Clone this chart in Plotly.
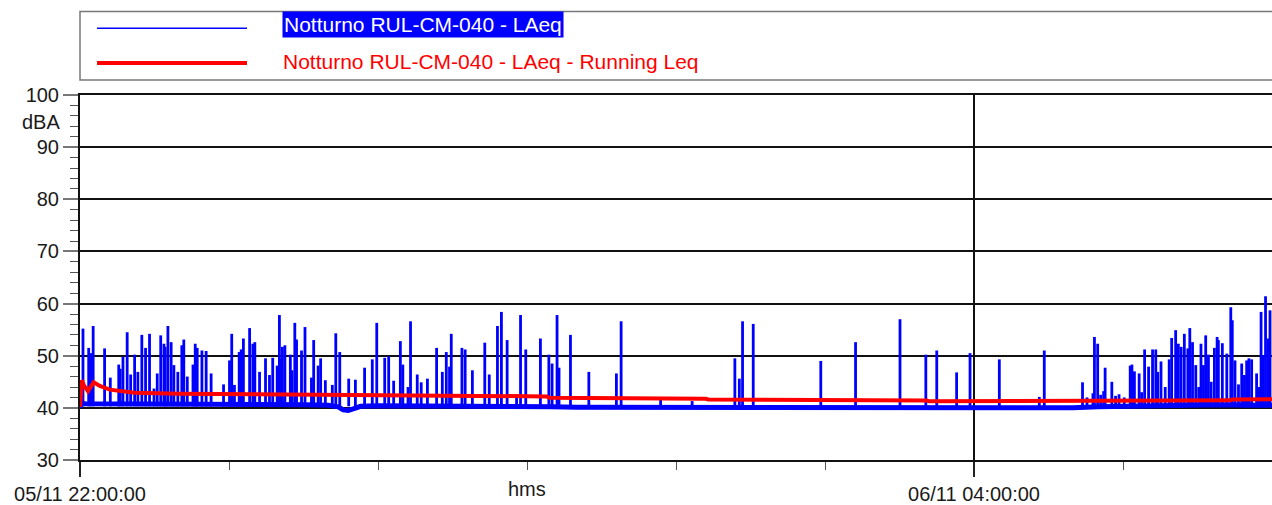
import pandas as pd
import plotly.graph_objects as go

# ---------------- data ----------------
START = pd.Timestamp("2019-11-05 22:00:00")

# LAeq baseline (minutes after 22:00, dBA)
base_min = [0, 0.6, 2, 10, 20, 30, 40, 50, 60, 70, 80, 90, 100, 104, 106, 108, 110, 113,
            120, 130, 140, 150, 160, 170, 180, 190, 200, 210, 220, 230, 240, 250, 260,
            270, 280, 290, 300, 310, 320, 330, 340, 350, 360, 370, 380, 390, 400, 410,
            420, 430, 440, 450, 460, 470, 480]
base_db = [40.0, 40.9, 40.8, 40.8, 40.8, 40.8, 40.7, 40.7, 40.7, 40.6, 40.6, 40.6, 40.5, 40.2,
           39.6, 39.5, 39.8, 40.3, 40.4, 40.4, 40.4, 40.4, 40.3, 40.2, 40.2, 40.2, 40.1,
           40.1, 40.0, 40.0, 39.9, 40.0, 40.0, 39.9, 39.9, 39.9, 39.9, 39.9, 39.9, 39.9,
           39.9, 39.9, 39.9, 39.9, 39.9, 39.9, 40.0, 40.2, 40.3, 40.4, 40.5, 40.6, 40.6,
           40.5, 40.5]

# LAeq peaks (minutes after 22:00, dBA)
peak_min = [1.2, 3.5, 4.3, 5.3, 9.9, 12.2, 15.6, 16.2, 17.3, 19.0, 20.4, 22.0, 23.3, 24.9,
            26.4, 28.0, 29.8, 31.1, 32.5, 33.8, 34.3, 35.4, 36.7, 37.8, 39.4, 41.0, 41.8,
            43.2, 45.5, 46.4, 47.2, 49.1, 50.8, 52.8, 57.8, 60.2, 61.1, 62.2, 64.1, 64.9,
            65.8, 68.3, 69.6, 70.4, 72.3, 74.7, 76.3, 77.6, 79.4, 80.3, 80.8, 81.5, 82.5,
            84.7, 85.4, 86.5, 87.2, 89.2, 90.6, 93.2, 94.1, 95.9, 96.9, 98.8, 101.6, 103.0,
            104.6, 108.2, 110.9, 114.6, 117.7, 119.5, 122.7, 124.3, 126.3, 129.0, 130.0,
            132.1, 133.1, 135.8, 137.4, 139.9, 143.6, 145.9, 147.5, 148.8, 149.5, 153.8,
            155.1, 158.0, 163.0, 164.8, 168.1, 169.7, 172.0, 175.8, 177.4, 179.5, 185.4,
            188.8, 190.1, 192.1, 192.9, 197.5, 204.9, 216.0, 217.9, 233.8, 246.5, 263.7,
            265.5, 266.8, 271.1, 298.3, 312.3, 330.2, 340.6, 345.0, 353.0, 358.4, 370.2,
            386.3, 388.3, 403.7, 405.5, 407.9, 408.5, 409.8, 411.0, 412.2, 412.8, 415.5,
            417.0, 418.4, 420.5, 422.9, 423.6, 424.6, 426.5, 427.5, 428.7, 430.3, 431.9,
            433.2, 434.0, 435.3, 437.0, 438.6, 439.6, 441.2, 442.3, 443.4, 444.7, 446.1,
            446.9, 448.0, 449.3, 450.5, 451.4, 452.4, 453.3, 454.4, 455.5, 456.8, 457.9,
            458.4, 460.0, 461.8, 463.4, 464.0, 465.1, 466.5, 467.8, 468.9, 469.8, 470.7,
            471.8, 473.8, 474.8, 475.6, 476.5, 477.4, 478.5, 479.2]
peak_db = [55.2, 51.5, 50.5, 55.7, 51.4, 45.8, 48.3, 47.5, 49.8, 54.5, 46.4, 50.2, 46.9, 54.0,
           51.5, 54.2, 43.7, 46.6, 53.9, 52.3, 51.7, 55.7, 52.6, 48.2, 46.9, 52.0, 53.1,
           46.0, 48.3, 52.3, 51.5, 51.0, 50.9, 46.6, 44.5, 49.1, 54.2, 44.4, 50.7, 51.2,
           53.3, 55.3, 52.3, 52.6, 46.9, 49.5, 46.3, 49.6, 48.1, 57.8, 49.5, 51.7, 52.0,
           50.2, 47.2, 56.3, 53.1, 51.0, 55.5, 45.8, 53.0, 48.1, 49.5, 45.3, 44.4, 54.3,
           50.7, 45.6, 45.4, 47.7, 49.3, 56.3, 49.6, 49.9, 45.2, 52.8, 48.3, 44.0, 56.6,
           46.4, 44.9, 45.6, 51.5, 46.9, 50.7, 47.9, 54.2, 51.5, 51.2, 47.2, 52.5, 46.4,
           55.7, 58.4, 53.0, 42.6, 57.8, 51.2, 53.3, 50.2, 48.5, 57.8, 47.7, 54.0, 46.9,
           46.6, 56.6, 41.5, 41.3, 49.5, 45.6, 56.6, 56.1, 49.0, 52.6, 57.0, 50.2, 51.0,
           46.8, 50.5, 49.3, 42.1, 51.0, 44.9, 42.0, 42.8, 53.6, 52.3, 42.5, 43.2, 47.7,
           45.0, 42.3, 42.6, 42.0, 48.1, 48.3, 47.0, 46.6, 43.0, 51.2, 47.9, 51.2, 51.2,
           46.9, 48.9, 44.0, 49.3, 53.4, 54.9, 52.3, 51.7, 54.2, 51.4, 55.3, 52.6, 48.2,
           44.0, 52.3, 48.2, 53.9, 50.2, 45.0, 51.5, 53.6, 53.0, 52.4, 50.4, 59.3, 56.8,
           49.1, 44.5, 48.5, 46.3, 49.1, 49.5, 49.3, 46.6, 44.0, 58.4, 50.1, 61.4, 53.3,
           58.7]

# Running Leq (minutes after 22:00, dBA)
run_min = [0, 0.8, 1.6, 3.2, 5.5, 8, 12, 16, 22, 40, 80, 108, 109, 150, 188, 189, 226, 227,
           252, 253, 293, 294, 341, 342, 435, 436, 463, 464, 480]
run_db = [40.2, 45.3, 44.3, 43.2, 44.9, 44.2, 43.5, 43.2, 42.9, 42.7, 42.6, 42.55, 42.4,
          42.3, 42.2, 41.95, 41.9, 41.75, 41.75, 41.6, 41.55, 41.45, 41.4, 41.25, 41.25,
          41.4, 41.45, 41.6, 41.65]

y_ticks = [30, 40, 50, 60, 70, 80, 90, 100]
x_tick_min = [0, 360]
x_tick_text = ["05/11 22:00:00", "06/11 04:00:00"]
x_title_min = 180
series_names = ["Notturno RUL-CM-040 - LAeq", "Notturno RUL-CM-040 - LAeq - Running Leq"]

# ---------------- figure ----------------
def ts(m):
    return START + pd.to_timedelta(m, unit="min")

FONT = "Liberation Sans Narrow, Arial Narrow, Liberation Sans, Arial, sans-serif"
BLUE = "#0000FF"
RED = "#FF0000"
TXT = "#1a1a1a"

sx, sy = [], []
for m, v in zip(peak_min, peak_db):
    sx += [ts(m), ts(m), None]
    sy += [40.3, v, None]

fig = go.Figure()
fig.add_trace(go.Scatter(x=[ts(m) for m in base_min], y=base_db, mode="lines",
                         line=dict(color=BLUE, width=5), showlegend=False, hoverinfo="skip"))
fig.add_trace(go.Scatter(x=sx, y=sy, mode="lines", line=dict(color=BLUE, width=2.8),
                         showlegend=False, connectgaps=False, name=series_names[0]))
fig.add_trace(go.Scatter(x=[ts(m) for m in run_min], y=run_db, mode="lines",
                         line=dict(color=RED, width=4), showlegend=False, name=series_names[1]))

fig.update_layout(
    width=1272, height=505,
    margin=dict(l=80, r=0, t=95, b=43),
    paper_bgcolor="white", plot_bgcolor="white",
    font=dict(family=FONT, size=20, color=TXT),
    showlegend=False,
)
fig.update_xaxes(
    type="date", range=[ts(0), ts(480)],
    tickmode="array", tickvals=[ts(m) for m in x_tick_min], ticktext=x_tick_text,
    ticks="outside", ticklen=15, tickwidth=1.5, tickcolor="#222",
    showgrid=True, gridcolor="#111", gridwidth=1.5,
    showline=True, linecolor="#111", linewidth=2, mirror=True,
    zeroline=False,
    minor=dict(tick0=ts(0), dtick=3600000, ticks="outside", ticklen=8, tickwidth=1,
               tickcolor="#555", showgrid=False),
    tickfont=dict(size=20, color=TXT),
)
fig.update_yaxes(
    range=[30, 100], tickmode="array", tickvals=y_ticks,
    ticks="outside", ticklen=15, tickwidth=1.5, tickcolor="#777",
    showgrid=True, gridcolor="#111", gridwidth=1.5,
    showline=True, linecolor="#111", linewidth=2,
    zeroline=False,
    minor=dict(dtick=2, ticks="outside", ticklen=8, tickwidth=1, tickcolor="#555", showgrid=False),
    tickfont=dict(size=20, color=TXT),
)

# axis unit / title labels
fig.add_annotation(x=0, xref="paper", xshift=-18, xanchor="right", y=94.8, yref="y",
                   yanchor="middle", text="dBA", showarrow=False,
                   font=dict(family=FONT, size=20, color=TXT))
fig.add_annotation(x=ts(x_title_min), xref="x", y=-0.079, yref="paper", yanchor="middle",
                   text="hms", showarrow=False, font=dict(family=FONT, size=20, color=TXT))

# legend box
fig.add_shape(type="rect", xref="paper", yref="paper", x0=0, x1=1.01, y0=1.0409, y1=1.2289,
              line=dict(color="#777", width=1.5), fillcolor="white", layer="above")
fig.add_shape(type="line", xref="paper", yref="paper", x0=0.0143, x1=0.1401, y0=1.1826, y1=1.1826,
              line=dict(color=BLUE, width=1.5))
fig.add_shape(type="line", xref="paper", yref="paper", x0=0.0143, x1=0.1401, y0=1.088, y1=1.088,
              line=dict(color=RED, width=4))
fig.add_annotation(x=0.1695, xref="paper", xanchor="left", y=1.192, yref="paper", yanchor="middle",
                   text=series_names[0], showarrow=False, bgcolor=BLUE, borderpad=1,
                   font=dict(family=FONT, size=21, color="white"))
fig.add_annotation(x=0.1695, xref="paper", xanchor="left", y=1.0926, yref="paper", yanchor="middle",
                   text=series_names[1], showarrow=False, borderpad=0,
                   font=dict(family=FONT, size=21, color=RED))

fig.write_html("out.html")
